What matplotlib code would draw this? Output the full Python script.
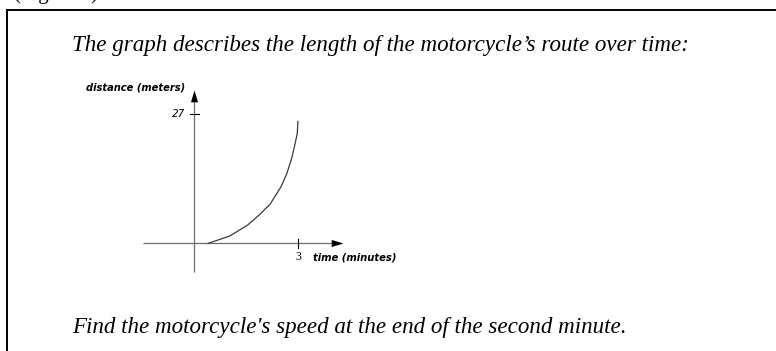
import matplotlib
matplotlib.use("Agg")
import matplotlib.pyplot as plt
import numpy as np

W, H = 776, 351

# route length
time_min = [0.41, 1.02, 1.54, 1.87, 2.19, 2.50, 2.67, 2.81, 2.90, 2.97, 2.99]
distance_m = [0.0, 1.5, 3.8, 5.9, 8.2, 11.8, 14.6, 17.8, 20.6, 23.0, 25.5]

y_tick = 27
x_tick = 3

title_txt = "The graph describes the length of the motorcycle\u2019s route over time:"
question_txt = "Find the motorcycle's speed at the end of the second minute."


def px(x, y):
    # pixel position (from top left) -> figure fraction
    return x / W, 1 - y / H


fig = plt.figure(figsize=(W / 100, H / 100), dpi=100)

# frame around the exercise: left and top edges only show
fig.add_artist(plt.Line2D([7 / W, 7 / W], [0, 1 - 10 / H], color="black", lw=1.4))
fig.add_artist(plt.Line2D([7 / W, 1], [1 - 10 / H, 1 - 10 / H], color="black", lw=1.4))

# caption line that sits above the frame, mostly cut off
fig.text(*px(14, -1), "(Figure 1)", family="Liberation Serif", fontsize=15,
         ha="left", va="baseline")

fig.text(*px(72, 45), title_txt, family="Liberation Serif", style="italic",
         fontsize=16.6, ha="left", va="center")
fig.text(*px(72, 327), question_txt, family="Liberation Serif", style="italic",
         fontsize=16.6, ha="left", va="center")

# axes placed so that the origin lands at (194, 243) px
x0, x1, y0, y1 = -2, 5, -8, 35
sx, sy = 34.77, 4.778
left = 194 + x0 * sx
right = 194 + x1 * sx
bottom = 243.3 - y0 * sy
top = 243.3 - y1 * sy
ax = fig.add_axes([left / W, 1 - bottom / H, (right - left) / W, (bottom - top) / H])
ax.set_xlim(x0, x1)
ax.set_ylim(y0, y1)
ax.axis("off")

axis_col = "#6e6e6e"
ax.plot([-1.47, 4.1], [0, 0], color=axis_col, lw=0.9, solid_capstyle="butt")
ax.plot([0, 0], [-6.0, 31.0], color=axis_col, lw=0.9, solid_capstyle="butt")

head = [(0, 0), (-2, -0.6), (-2, 0.6), (0, 0)]
head_up = [(0, 0), (-0.6, -2), (0.6, -2), (0, 0)]
ax.plot(4.29, 0, marker=head, ms=17, color="black", mew=0)
ax.plot(0, 32.1, marker=head_up, ms=17, color="black", mew=0)

# tick marks
ax.plot([-0.12, 0.14], [y_tick, y_tick], color="black", lw=0.8)
ax.plot([x_tick, x_tick], [-0.9, 1.0], color="black", lw=0.8)

ax.plot(time_min, distance_m, color="#3a3a3a", lw=0.9)

fig.text(*px(185, 114), str(y_tick), family="DejaVu Sans", style="italic",
         fontsize=7.5, ha="right", va="center")
fig.text(*px(298, 257), str(x_tick), family="Liberation Serif",
         fontsize=8.5, ha="center", va="center")
fig.text(*px(185, 88), "distance (meters)", family="DejaVu Sans", style="italic",
         weight="bold", fontsize=7.1, ha="right", va="center")
fig.text(*px(313, 258), "time (minutes)", family="DejaVu Sans", style="italic",
         weight="bold", fontsize=7.2, ha="left", va="center")

fig.savefig("out.png", dpi=100, facecolor="white")
